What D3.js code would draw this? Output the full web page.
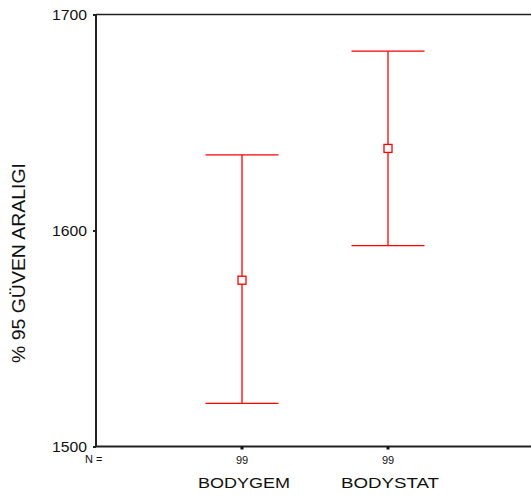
<!DOCTYPE html>
<html>
<head>
<meta charset="utf-8">
<script src="https://cdn.jsdelivr.net/npm/d3@7"></script>
<style>
body { margin: 0; background: #fff; }
svg { font-family: "Liberation Sans", Arial, sans-serif; }
</style>
</head>
<body>
<svg width="531" height="500"></svg>
<script>
// values
var categories = ["BODYGEM", "BODYSTAT"];
var counts = [99, 99];
var means = [1577, 1638];
var lower = [1520, 1593];
var upper = [1635, 1683];
var yTicks = [1500, 1600, 1700];

var svg = d3.select("svg");
var plotLeft = 96, plotTop = 14.5, plotBottom = 446.5, plotRight = 534;

var y = d3.scaleLinear().domain([1500, 1700]).range([plotBottom, plotTop]);
var x = d3.scalePoint().domain(categories).range([242, 388]);

// frame: left, top, bottom
svg.append("line").attr("x1", plotLeft).attr("x2", plotRight).attr("y1", plotTop).attr("y2", plotTop)
  .attr("stroke", "#222").attr("stroke-width", 1.5);
svg.append("line").attr("x1", plotLeft).attr("x2", plotRight).attr("y1", plotBottom).attr("y2", plotBottom)
  .attr("stroke", "#222").attr("stroke-width", 2);
svg.append("line").attr("x1", plotLeft).attr("x2", plotLeft).attr("y1", plotTop).attr("y2", plotBottom)
  .attr("stroke", "#222").attr("stroke-width", 2);

// y axis
var yAxis = d3.axisLeft(y).tickValues(yTicks).tickSize(3).tickPadding(6).tickFormat(d3.format("d"));
var gy = svg.append("g").attr("transform", "translate(" + plotLeft + ",0)").call(yAxis);
gy.select(".domain").remove();
gy.selectAll(".tick line").attr("stroke", "#222").attr("stroke-width", 2);
gy.selectAll(".tick text").attr("font-size", 15).attr("fill", "#111")
  .attr("textLength", 35).attr("lengthAdjust", "spacingAndGlyphs")
  .attr("font-family", "Liberation Sans, Arial, sans-serif");

// x ticks
svg.selectAll(".xt").data(categories).enter().append("rect")
  .attr("x", function(d) { return x(d) - 1.5; })
  .attr("y", plotBottom)
  .attr("width", 3).attr("height", 3).attr("fill", "#111");

svg.append("text").attr("x", 85).attr("y", 463).attr("font-size", 11).attr("fill", "#111").text("N =");
svg.selectAll(".n").data(categories).enter().append("text")
  .attr("x", function(d) { return x(d); })
  .attr("y", 463.5)
  .attr("text-anchor", "middle").attr("font-size", 11).attr("fill", "#111")
  .text(function(d, i) { return counts[i]; });

var catWidth = [92, 98];
svg.selectAll(".cat").data(categories).enter().append("text")
  .attr("x", function(d, i) { return x(d) + 2 - catWidth[i] / 2; })
  .attr("y", 488)
  .attr("font-size", 14.5).attr("fill", "#111")
  .attr("textLength", function(d, i) { return catWidth[i]; })
  .attr("lengthAdjust", "spacingAndGlyphs")
  .text(function(d) { return d; });

// y title
svg.append("text")
  .attr("transform", "translate(25,363) rotate(-90)")
  .attr("font-size", 18.5).attr("fill", "#111")
  .attr("textLength", 200).attr("lengthAdjust", "spacingAndGlyphs")
  .text("% 95 GÜVEN ARALIGI");

// error bars
var red = "#ff0000";
var g = svg.append("g");
categories.forEach(function(c, i) {
  var cx = x(c), cap = 36.5;
  g.append("line").attr("x1", cx).attr("x2", cx).attr("y1", y(upper[i])).attr("y2", y(lower[i]))
    .attr("stroke", red).attr("stroke-width", 1.3);
  g.append("line").attr("x1", cx - cap).attr("x2", cx + cap).attr("y1", y(upper[i])).attr("y2", y(upper[i]))
    .attr("stroke", red).attr("stroke-width", 1.3);
  g.append("line").attr("x1", cx - cap).attr("x2", cx + cap).attr("y1", y(lower[i])).attr("y2", y(lower[i]))
    .attr("stroke", red).attr("stroke-width", 1.3);
  g.append("rect").attr("x", cx - 4).attr("y", y(means[i]) - 4).attr("width", 8).attr("height", 8)
    .attr("fill", "#fff").attr("stroke", red).attr("stroke-width", 1.3);
});
</script>
</body>
</html>
